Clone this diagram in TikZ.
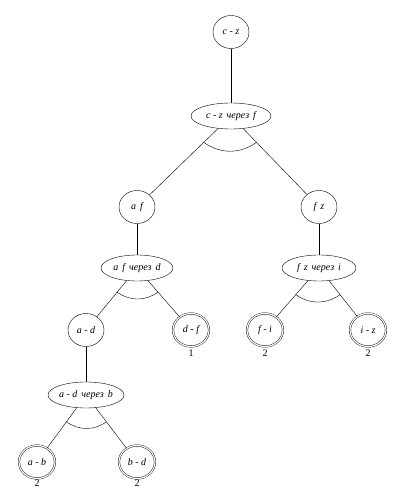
\documentclass[tikz,border=0pt]{standalone}
\usepackage{fontspec}
\setmainfont{Liberation Serif}
\usetikzlibrary{shapes.geometric,calc}
\tikzset{
  leaf/.style={ellipse,draw,thin,minimum width=36pt,minimum height=33pt,inner sep=0pt,font=\fontsize{10}{11}\selectfont\itshape},
  orn/.style={ellipse,draw,thin,minimum width=76pt,minimum height=26pt,inner sep=0pt,font=\fontsize{10}{11}\selectfont\itshape},
  solved/.style={leaf,double,double distance=1.2pt},
  edge/.style={thin},
  cost/.style={font=\fontsize{10}{11}\selectfont}
}
\newcommand{\wsp}{\hspace{0.4em}}
\begin{document}
\begin{tikzpicture}[x=1pt,y=1pt]
\useasboundingbox (0,0) rectangle (404,504);
\node[leaf] (cz) at (231,472) {c - z};
\node[orn,minimum width=80pt] (czf) at (231,388) {c - z\wsp через\wsp f};
\node[leaf] (af) at (137,297) {a\wsp f};
\node[leaf] (fz) at (319,297) {f\wsp z};
\node[orn,minimum width=72pt] (afd) at (137,236) {a\wsp f\wsp через\wsp d};
\node[orn,minimum width=74pt] (fzi) at (319,236) {f\wsp z\wsp через\wsp i};
\node[leaf] (ad) at (86,174) {a - d};
\node[solved] (df) at (191,174) {d - f};
\node[solved] (fi) at (265,174) {f - i};
\node[solved] (iz) at (368,174) {i - z};
\node[orn,minimum width=75pt] (adb) at (86,109) {a - d\wsp через\wsp b};
\node[solved] (ab) at (37,42) {a - b};
\node[solved] (bd) at (137,42) {b - d};
\node[cost] (c1) at (191,151) {1};
\node[cost] (c2) at (265,151) {2};
\node[cost] (c3) at (368,151) {2};
\node[cost] (c4) at (37,21) {2};
\node[cost] (c5) at (137,21) {2};
\draw[edge] (cz) -- (czf);
\draw[edge] (czf) -- (af);
\draw[edge] (czf) -- (fz);
\draw[edge] (af) -- (afd);
\draw[edge] (fz) -- (fzi);
\draw[edge] (afd) -- (ad);
\draw[edge] (afd) -- (df);
\draw[edge] (fzi) -- (fi);
\draw[edge] (fzi) -- (iz);
\draw[edge] (ad) -- (adb);
\draw[edge] (adb) -- (ab);
\draw[edge] (adb) -- (bd);
\draw[edge] ($(czf)!0.29!(af)$) to[bend right=35] ($(czf)!0.29!(fz)$);
\draw[edge] ($(afd)!0.39!(ad)$) to[bend right=35] ($(afd)!0.39!(df)$);
\draw[edge] ($(fzi)!0.43!(fi)$) to[bend right=35] ($(fzi)!0.43!(iz)$);
\draw[edge] ($(adb)!0.4!(ab)$) to[bend right=35] ($(adb)!0.4!(bd)$);
\end{tikzpicture}
\end{document}
